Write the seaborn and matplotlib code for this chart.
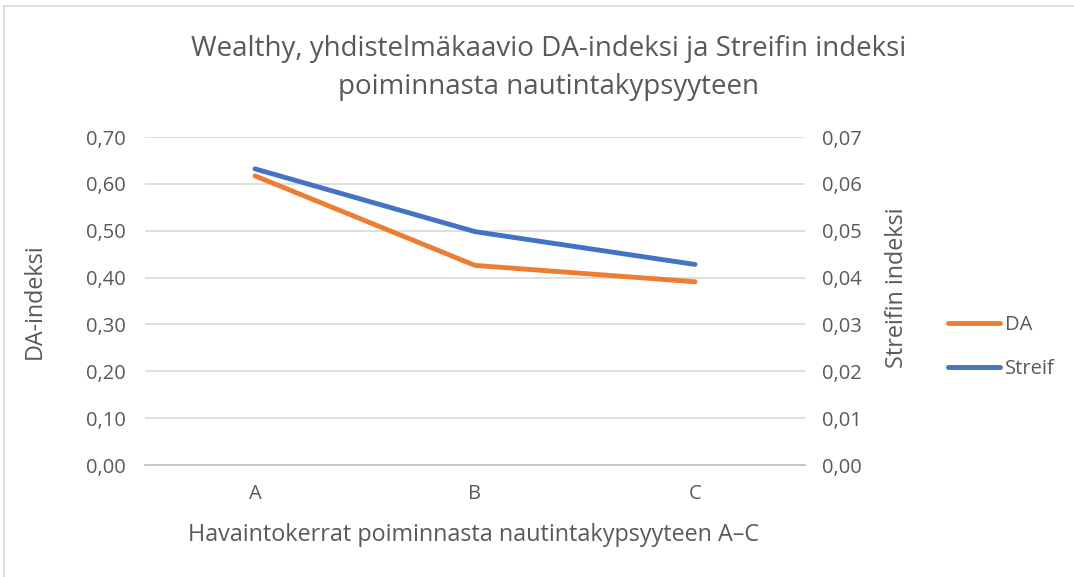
import matplotlib
matplotlib.use("Agg")
import matplotlib.pyplot as plt
import seaborn as sns
import pandas as pd
from matplotlib.lines import Line2D
from matplotlib.ticker import FuncFormatter, MultipleLocator

categories = ["A", "B", "C"]
da_values = [0.617, 0.426, 0.391]
streif_values = [0.0632, 0.0498, 0.0428]

title = "Wealthy, yhdistelmäkaavio DA-indeksi ja Streifin indeksi\npoiminnasta nautintakypsyyteen"
xlabel = "Havaintokerrat poiminnasta nautintakypsyyteen A–C"
ylabel_left = "DA-indeksi"
ylabel_right = "Streifin indeksi"

sns.set_theme(style="white")
plt.rcParams['font.family'] = ['Open Sans', 'DejaVu Sans']

TXT = "#595959"
ORANGE = "#ED7D31"
BLUE = "#4472C4"

df = pd.DataFrame({"cat": categories, "DA": da_values, "Streif": streif_values})
df["x"] = range(len(categories))

fig = plt.figure(figsize=(10.74, 5.77), dpi=100)
ax = fig.add_axes([145/1074, 1-465/577, 660/1074, (465-137)/577])
ax2 = ax.twinx()

sns.lineplot(data=df, x="x", y="DA", ax=ax, color=ORANGE, linewidth=3.5,
             solid_capstyle="round", legend=False)
sns.lineplot(data=df, x="x", y="Streif", ax=ax2, color=BLUE, linewidth=3.5,
             solid_capstyle="round", legend=False)

ax.set_xlim(-0.5, len(categories)-0.5)
ax.set_xticks(df["x"])
ax.set_xticklabels(categories)
ax.set_ylim(0, 0.70)
ax.yaxis.set_major_locator(MultipleLocator(0.1))
ax2.set_ylim(0, 0.07)
ax2.yaxis.set_major_locator(MultipleLocator(0.01))
ax.yaxis.set_major_formatter(FuncFormatter(lambda v, p: f"{v:.2f}".replace(".", ",")))
ax2.yaxis.set_major_formatter(FuncFormatter(lambda v, p: f"{v:.2f}".replace(".", ",")))

ax.grid(axis="y", color="#D9D9D9", linewidth=1.2)
ax.set_axisbelow(True)
for a in (ax, ax2):
    for s in a.spines.values():
        s.set_visible(False)
    a.tick_params(length=0, labelsize=14.5, labelcolor=TXT)
ax.spines["bottom"].set_visible(True)
ax.spines["bottom"].set_color("#BFBFBF")
ax.spines["bottom"].set_linewidth(1.2)
ax.tick_params(axis="x", pad=14)
ax.tick_params(axis="y", pad=14)
ax2.tick_params(axis="y", pad=12)

ax.set_xlabel(xlabel, fontsize=16.8, color=TXT)
ax.set_ylabel(ylabel_left, fontsize=16.8, color=TXT)
ax2.set_ylabel(ylabel_right, fontsize=16.8, color=TXT)
ax.xaxis.label.set_va("center")
ax.yaxis.label.set_va("center")
ax2.yaxis.label.set_va("center")
ax.xaxis.set_label_coords(0.498, (465-535)/328)
ax.yaxis.set_label_coords((35-145)/660, 0.5)
ax2.yaxis.set_label_coords((897-145)/660, 0.54)

fig.text(549/1074, 1-68/577, title, ha="center", va="center", fontsize=20,
         color=TXT, linespacing=1.5)

handles = [Line2D([0], [0], color=ORANGE, lw=3.5, solid_capstyle="round"),
           Line2D([0], [0], color=BLUE, lw=3.5, solid_capstyle="round")]
fig.legend(handles, ["DA", "Streif"], loc="center left",
           bbox_to_anchor=(930/1074, 1-347/577), frameon=False, fontsize=14.5,
           labelcolor=TXT, handlelength=2.6, handletextpad=0.2, labelspacing=1.2)

# chart border
fig.add_artist(Line2D([4/1074, 4/1074], [0, 1-6/577], color="#D9D9D9", lw=1.2, transform=fig.transFigure))
fig.add_artist(Line2D([4/1074, 1], [1-6/577, 1-6/577], color="#D9D9D9", lw=1.2, transform=fig.transFigure))

fig.savefig("out.png", dpi=100)
